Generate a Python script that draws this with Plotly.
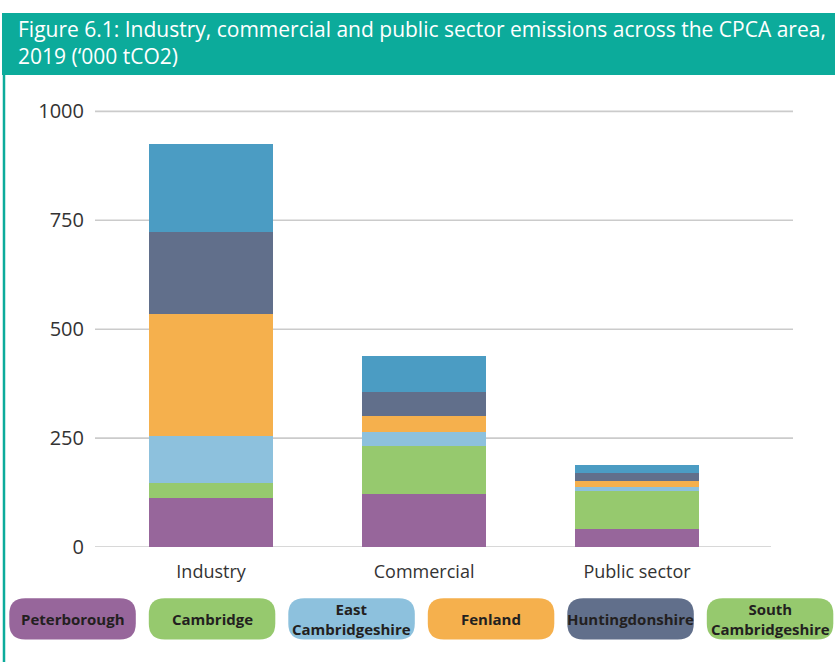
import plotly.graph_objects as go

# ---- data ----
categories = ["Industry", "Commercial", "Public sector"]
districts = ["Peterborough", "Cambridge", "East Cambridgeshire", "Fenland",
             "Huntingdonshire", "South Cambridgeshire"]
peterborough = [112, 122, 41]
cambridge = [34, 111, 88]
east_cambs = [109, 30, 9]
fenland = [281, 37, 13]
huntingdonshire = [188, 55, 19]
south_cambs = [202, 83, 18]
series_values = [peterborough, cambridge, east_cambs, fenland, huntingdonshire, south_cambs]

y_ticks = [0, 250, 500, 750, 1000]
legend_labels = ["Peterborough", "Cambridge", "East<br>Cambridgeshire", "Fenland",
                 "Huntingdonshire", "South<br>Cambridgeshire"]
title_line1 = "Figure 6.1: Industry, commercial and public sector emissions across the CPCA area,"
title_line2 = "2019 (\u2018000 tCO2)"

# ---- styles ----
bar_colors = ["#97669B", "#96C96E", "#8DC1DD", "#F5B04D", "#616F8B", "#4B9CC3"]
legend_colors = ["#97669B", "#96C96E", "#8DC1DD", "#F5B04D", "#616F8B", "#96C96E"]
TEAL = "#0CAB9B"
GRID = "#CBCBCB"
FONT = "Open Sans"

W, H = 835, 662
ML, MR, MT, MB = 95, 42, 107, 115
PW = W - ML - MR
PH = H - MT - MB


def px(x):
    return (x - ML) / PW


def py(y):
    return (H - MB - y) / PH


fig = go.Figure()
for name, vals, col in zip(districts, series_values, bar_colors):
    fig.add_trace(go.Bar(x=categories, y=vals, name=name, marker_color=col,
                         marker_line_width=0, width=0.582))

shapes = []
# gridlines
for v in y_ticks[1:]:
    shapes.append(dict(type="line", xref="paper", yref="y", x0=0, x1=1, y0=v, y1=v,
                       line=dict(color=GRID, width=1.6), layer="below"))
# zero / axis line
shapes.append(dict(type="line", xref="paper", yref="y", x0=0, x1=px(771), y0=0, y1=0,
                   line=dict(color=GRID, width=1.6), layer="below"))
# title band
shapes.append(dict(type="rect", xref="paper", yref="paper", x0=px(2), x1=px(836),
                   y0=py(75), y1=py(13), fillcolor=TEAL, line_width=0))
# left border
shapes.append(dict(type="line", xref="paper", yref="paper", x0=px(4), x1=px(4),
                   y0=py(75), y1=py(663), line=dict(color=TEAL, width=2.5)))


def pill(x0, y0, x1, y1, r):
    pts = [
        ("M", [(x0 + r, y0)]), ("L", [(x1 - r, y0)]), ("Q", [(x1, y0), (x1, y0 + r)]),
        ("L", [(x1, y1 - r)]), ("Q", [(x1, y1), (x1 - r, y1)]), ("L", [(x0 + r, y1)]),
        ("Q", [(x0, y1), (x0, y1 - r)]), ("L", [(x0, y0 + r)]), ("Q", [(x0, y0), (x0 + r, y0)]),
    ]
    s = ""
    for cmd, ps in pts:
        s += cmd + " " + " ".join(f"{px(a):.5f},{py(b):.5f}" for a, b in ps) + " "
    return s + "Z"


annotations = []
pill_w, pill_gap, pill_x0 = 126.5, 139.5, 9.3
pill_top, pill_bot = 598.3, 639.5
for i, (lab, col) in enumerate(zip(legend_labels, legend_colors)):
    x0 = pill_x0 + i * pill_gap
    x1 = x0 + pill_w
    shapes.append(dict(type="path", xref="paper", yref="paper",
                       path=pill(x0, pill_top, x1, pill_bot, 16),
                       fillcolor=col, line_width=0))
    annotations.append(dict(xref="paper", yref="paper", x=px((x0 + x1) / 2),
                            y=py((pill_top + pill_bot) / 2), text=f"<b>{lab}</b>",
                            showarrow=False, xanchor="center", yanchor="middle",
                            font=dict(family=FONT, size=15, color="#231F20"),
                            align="center"))

annotations.append(dict(xref="paper", yref="paper", x=px(16), y=py(43),
                        text=title_line1 + "<br>" + title_line2,
                        showarrow=False, xanchor="left", yanchor="middle", align="left",
                        font=dict(family=FONT, size=21, color="white")))

fig.update_layout(
    width=W, height=H,
    margin=dict(l=ML, r=MR, t=MT, b=MB, autoexpand=False),
    paper_bgcolor="white", plot_bgcolor="white",
    barmode="stack", showlegend=False,
    font=dict(family=FONT, color="#333333"),
    shapes=shapes, annotations=annotations,
    xaxis=dict(range=[-0.545, 2.732], showgrid=False, zeroline=False, showline=False,
               ticks="", tickfont=dict(size=18, color="#333333"), ticklabelstandoff=12),
    yaxis=dict(range=[0, 1010], tickvals=y_ticks, showgrid=False, zeroline=False,
               showline=False, ticks="", tickfont=dict(size=20, color="#333333"),
               ticklabelstandoff=10),
)

fig.write_html("out.html", config={"displayModeBar": False},
               post_script="document.body.style.margin='0';document.body.style.padding='0';")
